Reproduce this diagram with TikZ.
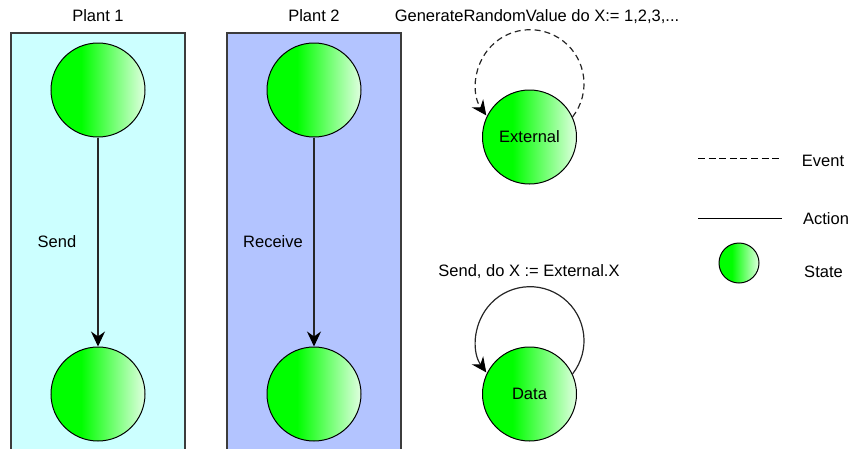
\documentclass[tikz,border=0pt]{standalone}
\usepackage{fontspec}
\setmainfont{Liberation Sans}
\usetikzlibrary{arrows.meta}
\definecolor{plantA}{RGB}{204,255,255}
\definecolor{plantB}{RGB}{179,196,255}
\definecolor{frame}{RGB}{60,60,60}
\pgfdeclarehorizontalshading{ballshade}{100bp}{color(0bp)=(green); color(41bp)=(green); color(75bp)=(white!88!green); color(100bp)=(white!88!green)}
\tikzset{
  lane/.style={draw=frame, line width=1.4pt},
  statenode/.style={circle, draw=black, line width=1pt, minimum size=94pt, inner sep=0pt, shading=ballshade},
  smallstate/.style={circle, draw=black, line width=1pt, minimum size=40pt, inner sep=0pt, shading=ballshade},
  lbl/.style={inner sep=0pt, font=\fontsize{16.5}{19}\selectfont},
  conn/.style={draw=black!85, line width=1.2pt, -{Stealth[length=15pt,width=14pt,inset=5pt,color=black,fill=black]}},
  evt/.style={conn, dash pattern=on 6pt off 4pt}
}
\begin{document}
\begin{tikzpicture}[x=1pt,y=-1pt]
\useasboundingbox (0,0) rectangle (849,448);
% lanes
\path[lane, fill=plantA] (11,33) rectangle (185,460);
\path[lane, fill=plantB] (227,33) rectangle (401,460);
\node[lbl] (t1) at (98,16) {Plant 1};
\node[lbl] (t2) at (314,16) {Plant 2};
% plant states
\node[statenode] (p1a) at (98,90) {};
\node[statenode] (p1b) at (98,394) {};
\node[statenode] (p2a) at (314,90) {};
\node[statenode] (p2b) at (314,394) {};
\draw[conn] (p1a) -- (p1b);
\draw[conn] (p2a) -- (p2b);
\node[lbl] (send) at (57,242) {Send};
\node[lbl] (recv) at (273,242) {Receive};
% external
\node[statenode] (ext) at (529.5,137) {\fontsize{16.5}{19}\selectfont External};
\draw[evt] (ext.25) arc[start angle=38, end angle=-216, radius=54];
\node[lbl] (gen) at (537,17) {GenerateRandomValue do X:= 1,2,3,...};
% data
\node[statenode] (data) at (529.5,394) {\fontsize{16.5}{19}\selectfont Data};
\draw[conn] (data.25) arc[start angle=38, end angle=-216, radius=54];
\node[lbl] (sendx) at (529,272) {Send, do X := External.X};
% legend
\coordinate (le1) at (698,158);
\coordinate (le2) at (782,158);
\draw[line width=1pt, dash pattern=on 7pt off 3.6pt] (le1) -- (le2);
\node[lbl] (evtl) at (823,161) {Event};
\coordinate (la1) at (698,218);
\coordinate (la2) at (782,218);
\draw[line width=1pt] (la1) -- (la2);
\node[lbl] (actl) at (826,219) {Action};
\node[smallstate] (ls) at (739,263) {};
\node[lbl] (statel) at (823.5,272) {State};
\end{tikzpicture}
\end{document}
